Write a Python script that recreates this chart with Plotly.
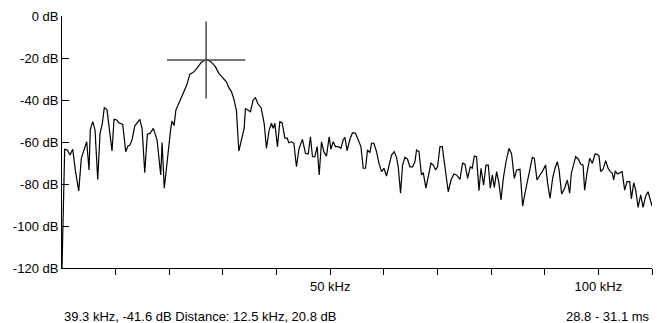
import plotly.graph_objects as go

# Spectrum (frequency in kHz, level in dB)
freq_khz = [0.00, 0.50, 0.99, 1.49, 2.00, 2.48, 3.12, 3.60, 4.10, 4.61, 5.04, 5.28, 5.73, 6.16, 6.66, 7.09, 7.52, 7.89, 8.40, 8.90,
            9.33, 9.70, 10.21, 10.58, 11.32, 11.88, 12.31, 12.69, 13.06, 13.56, 14.05, 14.50, 14.93, 15.43, 15.91, 16.42, 17.03, 17.72,
            18.41, 18.66, 19.07, 19.65, 20.28, 20.52, 20.90, 21.23, 21.77, 22.57, 23.26, 23.82, 24.63, 25.24, 25.99, 26.62, 27.24,
            27.85, 28.60, 29.24, 30.04, 30.65, 31.10, 31.59, 32.09, 32.52, 32.97, 33.45, 33.96, 34.20, 34.70, 35.13, 35.63, 36.06,
            36.57, 37.13, 37.69, 38.12, 38.62, 39.05, 39.37, 39.68, 40.17, 40.62, 41.04, 41.55, 41.98, 42.29, 42.78, 43.23, 43.71,
            44.16, 44.83, 45.39, 45.90, 46.32, 46.70, 47.14, 47.57, 47.95, 48.38, 48.82, 49.31, 49.81, 50.13, 50.56, 50.99, 51.49,
            52.00, 52.43, 52.74, 53.17, 53.68, 54.16, 54.72, 55.22, 55.73, 56.16, 56.59, 56.96, 57.41, 57.71, 58.15, 58.64, 59.09,
            59.57, 60.02, 60.50, 61.01, 61.44, 61.94, 62.37, 62.69, 63.12, 63.49, 63.94, 64.42, 64.87, 65.35, 65.80, 66.10, 66.55,
            67.03, 67.35, 67.85, 68.41, 68.79, 69.22, 69.65, 70.02, 70.47, 70.90, 71.40, 72.01, 72.52, 73.08, 73.56, 74.20, 74.68,
            75.13, 75.62, 76.12, 76.49, 76.87, 77.29, 77.74, 78.12, 78.60, 79.05, 79.48, 79.85, 80.22, 80.60, 81.03, 81.47, 81.85,
            82.28, 82.78, 83.34, 83.82, 84.33, 84.76, 85.39, 85.88, 86.32, 86.81, 87.26, 87.69, 88.06, 88.56, 89.12, 89.55, 90.17,
            90.54, 90.99, 91.47, 91.92, 92.35, 92.67, 93.16, 93.71, 94.22, 94.65, 94.96, 95.28, 95.77, 96.27, 96.70, 97.15, 97.44,
            97.89, 98.38, 98.88, 99.38, 99.81, 100.13, 100.43, 100.88, 101.36, 101.81, 102.24, 102.61, 102.85, 103.17, 103.54,
            103.97, 104.42, 104.91, 105.35, 105.84, 106.16, 106.59, 106.96, 107.41, 107.89, 108.34, 108.82, 109.27, 109.57, 110.00]
level_db = [-120.0, -63.5, -63.8, -66.2, -63.5, -73.3, -83.3, -67.8, -63.8, -59.9, -73.3, -54.0, -50.3, -54.3, -77.8, -55.9, -51.1,
            -43.5, -44.8, -55.9, -64.3, -49.2, -49.5, -50.8, -51.6, -64.6, -61.9, -61.4, -59.0, -52.4, -50.6, -49.2, -53.5, -74.6,
            -56.3, -55.9, -53.5, -59.0, -75.7, -60.2, -82.0, -67.1, -53.5, -50.0, -52.2, -44.8, -41.6, -37.3, -32.9, -27.8, -26.5,
            -24.6, -22.0, -21.0, -21.0, -22.0, -24.1, -27.3, -29.7, -31.3, -34.1, -36.0, -40.0, -45.2, -64.3, -58.2, -53.5, -44.0,
            -44.8, -45.6, -40.0, -38.9, -41.9, -43.8, -51.1, -63.0, -54.3, -51.1, -53.5, -51.1, -62.2, -50.3, -50.8, -58.2, -58.2,
            -60.3, -59.9, -60.6, -71.8, -63.5, -58.7, -65.4, -65.7, -57.5, -67.0, -67.0, -62.2, -75.7, -59.9, -64.6, -66.7, -57.5,
            -63.5, -59.9, -62.2, -62.2, -63.0, -59.0, -57.8, -64.1, -58.7, -55.6, -55.9, -59.0, -62.2, -72.5, -72.5, -63.8, -65.1,
            -60.6, -60.6, -64.6, -70.1, -74.1, -72.5, -76.2, -71.0, -66.2, -64.6, -67.3, -71.8, -84.4, -71.0, -67.3, -68.2, -71.8,
            -71.8, -69.4, -63.8, -64.6, -75.7, -74.6, -82.0, -74.1, -70.1, -71.0, -73.3, -71.8, -62.2, -62.2, -71.8, -83.7, -78.1,
            -75.2, -75.7, -77.8, -70.1, -70.6, -77.3, -71.8, -72.5, -66.7, -67.0, -83.2, -72.5, -80.5, -71.0, -71.0, -82.0, -75.7,
            -81.6, -74.1, -79.7, -87.6, -77.3, -69.4, -63.0, -65.7, -77.3, -73.3, -73.0, -90.5, -84.4, -78.1, -71.8, -67.3, -67.8,
            -78.1, -75.7, -74.1, -71.0, -79.7, -86.8, -77.3, -72.5, -69.4, -73.3, -84.8, -82.0, -78.1, -84.4, -74.9, -71.8, -67.0,
            -68.2, -70.5, -71.0, -82.9, -74.6, -67.8, -70.1, -65.7, -65.9, -66.7, -74.1, -73.0, -68.9, -72.5, -74.1, -74.9, -78.1,
            -73.7, -75.2, -74.6, -74.1, -82.9, -78.9, -78.9, -87.1, -79.4, -82.9, -91.1, -85.2, -91.1, -85.7, -83.7, -86.3, -90.5]

# Cursor (crosshair) position and arm sizes
cursor_khz = 26.87
cursor_db = -20.95
cursor_half_khz = 7.3
cursor_half_db = 18.3

x_tickvals = [10, 20, 30, 40, 50, 60, 70, 80, 90, 100, 110]
x_ticktext = ["", "", "", "", "50 kHz", "", "", "", "", "100 kHz", ""]
y_tickvals = [0, -20, -40, -60, -80, -100, -120]
y_ticktext = ["0 dB", "-20 dB", "-40 dB", "-60 dB", "-80 dB", "-100 dB", "-120 dB"]

status_left = "39.3 kHz, -41.6 dB Distance: 12.5 kHz, 20.8 dB"
status_right = "28.8 - 31.1 ms"

FONT = "Liberation Sans, Arial, sans-serif"

fig = go.Figure()
fig.add_trace(go.Scatter(x=freq_khz, y=level_db, mode="lines",
                         line=dict(color="#000000", width=1.2), hoverinfo="skip",
                         showlegend=False))

cross_col = "#4a4a4a"
fig.add_shape(type="line", xref="x", yref="y",
              x0=cursor_khz - cursor_half_khz, x1=cursor_khz + cursor_half_khz,
              y0=cursor_db, y1=cursor_db, line=dict(color=cross_col, width=1.5))
fig.add_shape(type="line", xref="x", yref="y",
              x0=cursor_khz, x1=cursor_khz,
              y0=cursor_db + cursor_half_db, y1=cursor_db - cursor_half_db,
              line=dict(color=cross_col, width=1.5))

fig.add_annotation(text=status_left, xref="paper", yref="paper", x=0, y=0,
                   xanchor="left", yanchor="middle", yshift=-48, showarrow=False,
                   font=dict(family=FONT, size=13, color="#000"))
fig.add_annotation(text=status_right, xref="paper", yref="paper", x=1, y=0,
                   xanchor="right", yanchor="middle", yshift=-48, showarrow=False,
                   font=dict(family=FONT, size=13, color="#000"))

fig.update_layout(
    width=658, height=323,
    margin=dict(l=62, r=6, t=16, b=55),
    paper_bgcolor="white", plot_bgcolor="white",
    font=dict(family=FONT, size=13, color="#000"),
    xaxis=dict(range=[0, 110], tickvals=x_tickvals, ticktext=x_ticktext,
               ticks="outside", ticklen=6, tickcolor="#000", tickwidth=1,
               showline=True, linecolor="#000", linewidth=1, automargin=False,
               showgrid=False, zeroline=False, fixedrange=True),
    yaxis=dict(range=[-120, 0], tickvals=y_tickvals, ticktext=y_ticktext,
               ticks="inside", ticklen=7, tickcolor="#000", tickwidth=1,
               showline=True, linecolor="#000", linewidth=1, automargin=False,
               showgrid=False, zeroline=False, fixedrange=True),
    yaxis2=dict(range=[-120, 0], overlaying="y", side="left", tickvals=y_tickvals,
                ticks="outside", ticklen=3, tickcolor="#000", tickwidth=1,
                showticklabels=False, showline=False, showgrid=False,
                zeroline=False, fixedrange=True, automargin=False),
)

fig.write_html("out.html", config={"displayModeBar": False, "staticPlot": True},
               post_script="document.body.style.margin='0';document.body.style.padding='0';")
